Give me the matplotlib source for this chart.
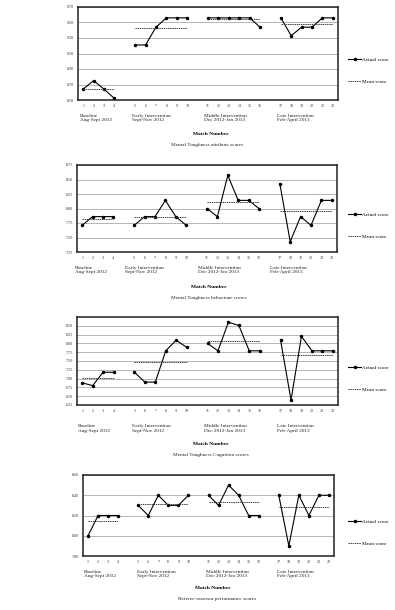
import numpy as np
import matplotlib
matplotlib.use("Agg")
from matplotlib import pyplot as plt

plt.rcParams['font.family'] = ['Liberation Serif', 'DejaVu Serif']

# match numbers and the phase each belongs to
matches = list(range(1, 23))
phase = [0]*4 + [1]*6 + [2]*6 + [3]*6
phase_names = ["Baseline\nAug-Sept 2012", "Early Intervention\nSept-Nov 2012",
               "Middle Intervention\nDec 2012-Jan 2013", "Late Intervention\nFeb-April 2013"]

# scores
attribute = [8.64, 8.75, 8.64, 8.52, 9.21, 9.21, 9.44, 9.56, 9.56, 9.56,
             9.56, 9.56, 9.56, 9.56, 9.56, 9.44, 9.56, 9.33, 9.44, 9.44, 9.56, 9.56]
behaviour = [7.71, 7.86, 7.86, 7.86, 7.71, 7.86, 7.86, 8.14, 7.86, 7.71,
             8.00, 7.86, 8.57, 8.14, 8.14, 8.00, 8.43, 7.43, 7.86, 7.71, 8.14, 8.14]
cognition = [6.88, 6.80, 7.18, 7.18, 7.18, 6.90, 6.90, 7.79, 8.09, 7.89,
             8.00, 7.79, 8.60, 8.51, 7.79, 7.79, 8.09, 6.39, 8.20, 7.79, 7.79, 7.79]
referee = [8.00, 8.20, 8.20, 8.20, 8.30, 8.20, 8.40, 8.30, 8.30, 8.40,
           8.40, 8.30, 8.50, 8.40, 8.20, 8.20, 8.40, 7.90, 8.40, 8.20, 8.40, 8.40]

captions = ["Mental Toughness attribute scores", "Mental Toughness behaviour scores",
            "Mental Toughness Cognition scores", "Referee-assessor performance scores"]

yticks1 = [8.50, 8.70, 8.90, 9.10, 9.30, 9.50, 9.70]
yticks2 = [7.25, 7.50, 7.75, 8.00, 8.25, 8.50, 8.75]
yticks3 = [6.25, 6.50, 6.75, 7.00, 7.25, 7.50, 7.75, 8.00, 8.25, 8.50]
yticks4 = [7.80, 8.00, 8.20, 8.40, 8.60]

W, H = 395, 610
fig = plt.figure(figsize=(W/100, H/100), dpi=100)


def px_axes(x0, y0, x1, y1):
    return fig.add_axes([x0/W, 1 - y1/H, (x1 - x0)/W, (y1 - y0)/H])


def panel(ax, vals, yticks, ylim, label_y, label_x, legend_y, mn_y, cx):
    pos = np.array(matches) - 1 + np.array(phase)
    vals = np.array(vals)
    ph = np.array(phase)
    for g in range(4):
        m = ph == g
        l1, = ax.plot(pos[m], vals[m], color='black', lw=0.8, marker='o', ms=1.5)
        l2, = ax.plot([pos[m][0], pos[m][-1]], [vals[m].mean()]*2, color='#333333',
                      lw=0.65, ls=(0, (1.6, 0.8)))
    ax.set_xlim(-0.5, 24.5)
    ax.set_ylim(*ylim)
    ax.set_yticks(yticks)
    ax.set_yticklabels(["%.2f" % t for t in yticks])
    ax.set_xticks(pos)
    ax.set_xticklabels([str(m) for m in matches])
    ax.tick_params(axis='both', length=0, labelsize=3.0, pad=3, colors='#333333')
    ax.grid(axis='y', color='#aaaaaa', lw=0.6)
    ax.set_axisbelow(True)
    for s in ax.spines.values():
        s.set_linewidth(1.1)
        s.set_color('#222222')
    tr = ax.get_xaxis_transform()
    for g in range(4):
        ax.text(label_x[g], label_y, phase_names[g], transform=tr, ha='left', va='top',
                fontsize=3.8, linespacing=1.1, color='#222222')
    fig.text(cx/W, 1 - mn_y/H, "Match Number", ha='center', va='center',
             fontsize=3.9, fontweight='bold')
    ax.legend([l1, l2], ["Actual score", "Mean score"], loc='upper left',
              bbox_to_anchor=(345/W, 1 - (legend_y - 6)/H), bbox_transform=fig.transFigure,
              frameon=False, fontsize=3.8, handlelength=2.6, handletextpad=0.2,
              labelspacing=3.2, borderpad=0)


ax1 = px_axes(78, 7, 338, 100)
panel(ax1, attribute, yticks1, (8.50, 9.70), -0.15, [-0.3, 4.7, 11.6, 18.6], 61, 134, 211)
ax2 = px_axes(77, 165, 337, 252)
panel(ax2, behaviour, yticks2, (7.25, 8.75), -0.16, [-0.7, 4.1, 11.1, 18.1], 216, 287, 209)
ax3 = px_axes(77, 317, 338, 405)
panel(ax3, cognition, yticks3, (6.25, 8.75), -0.22, [-0.4, 4.8, 11.7, 18.7], 369, 444, 211)
ax4 = px_axes(83, 475, 334, 556)
panel(ax4, referee, yticks4, (7.80, 8.60), -0.17, [-0.4, 4.9, 11.8, 18.8], 523, 588, 213)

cap_pos = [(207, 145), (209, 298), (211, 455), (217, 599)]
for (cx, cy), c in zip(cap_pos, captions):
    fig.text(cx/W, 1 - cy/H, c, ha='center', va='center', fontsize=3.8, color='#222222')

fig.savefig("out.png", dpi=100, facecolor='white')
